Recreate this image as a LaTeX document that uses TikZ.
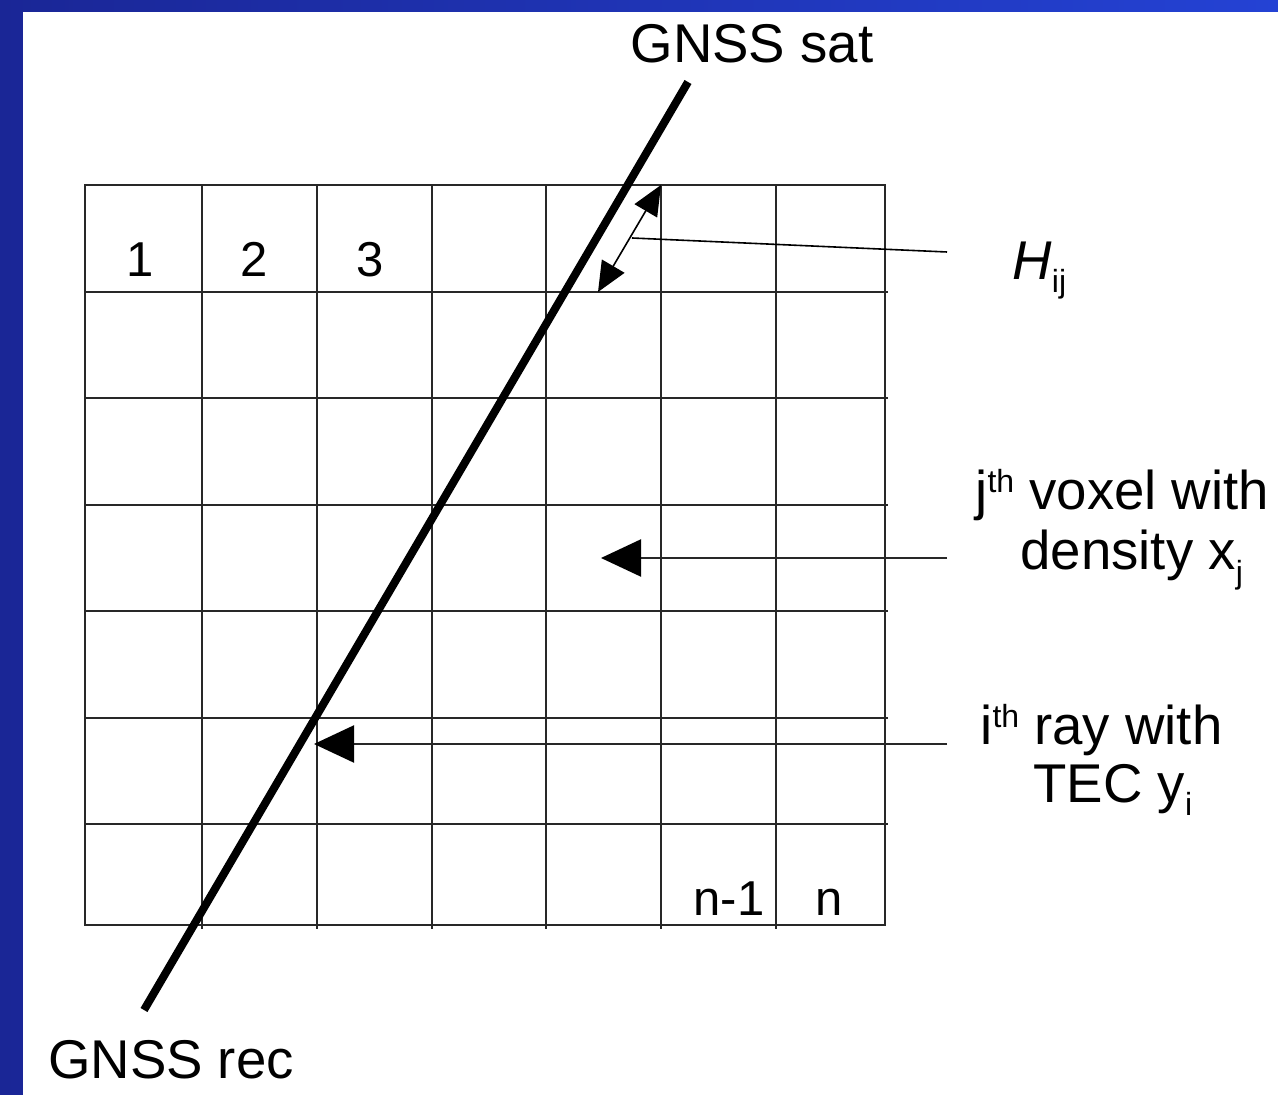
\documentclass[tikz,border=0pt]{standalone}
\usepackage{fontspec}
\setmainfont{Liberation Sans}
\usetikzlibrary{arrows.meta}
\definecolor{bgdark}{RGB}{26,38,150}
\definecolor{bglight}{RGB}{36,66,212}
\definecolor{gridc}{RGB}{40,40,40}
\newcommand\supx[1]{\raisebox{8.5pt}{\fontsize{16}{16}\selectfont #1}}
\newcommand\subx[1]{\raisebox{-6.5pt}{\fontsize{16}{16}\selectfont #1}}
\begin{document}
\begin{tikzpicture}[x=0.5pt,y=-0.5pt,
  big/.style={font=\fontsize{27.3}{32}\selectfont, inner sep=0pt},
  cell/.style={font=\fontsize{24.5}{29}\selectfont, inner sep=0pt, anchor=base},
  gridline/.style={draw=gridc, line width=1.1pt},
  thinline/.style={draw=black, line width=0.8pt},
  tri/.style={-{Triangle[length=20pt,width=18.5pt,color=black,fill=black]}},
]
\useasboundingbox (0,0) rectangle (1278,1095);
\shade[left color=bgdark, right color=bglight] (0,0) rectangle (1278,1095);
\fill[white] (23,12) rectangle (1278,1095);
% grid
\foreach \x in {202,317,432,546,661,776} \draw[gridline] (\x,185) -- (\x,929);
\foreach \y in {292,398,505,611,718,824} \draw[gridline] (85,\y) -- (888,\y);
\draw[gridline] (85,185) rectangle (885,925);
% cell labels
\node[cell] (c1) at (140,277) {1};
\node[cell] (c2) at (254,277) {2};
\node[cell] (c3) at (370,277) {3};
\node[cell] (cn1) at (729,915) {n-1};
\node[cell] (cn) at (829,915) {n};
% ray
\node[big, anchor=base] (sat) at (752,63) {GNSS sat};
\node[big, anchor=base] (rec) at (171,1078) {GNSS rec};
\coordinate (satend) at (688,82);
\coordinate (recend) at (144,1010);
\draw[line width=4pt] (recend) -- (satend);
% H_ij
\node[big, anchor=base west] (H) at (1012,280) {\textit{H}\subx{ij}};
\coordinate (h1) at (598,292);
\coordinate (h2) at (661,185);
\draw[thinline, {Triangle[length=15pt,width=13pt]}-{Triangle[length=15pt,width=13pt]}] (h1) -- (h2);
\coordinate (hs) at (632,238);
\coordinate (he) at (947,252);
\draw[thinline] (hs) -- (he);
% voxel
\node[big, anchor=base west] (vox1) at (975,510) {j\supx{th} voxel with};
\node[big, anchor=base west] (vox2) at (1020,570) {density x\subx{j}};
\coordinate (vs) at (947,558);
\coordinate (vt) at (601,558);
\draw[gridline, tri] (vs) -- (vt);
% ray label
\node[big, anchor=base west] (ray1) at (980,744) {i\supx{th} ray with};
\node[big, anchor=base west] (ray2) at (1033,802) {TEC y\subx{i}};
\coordinate (rs) at (947,744);
\coordinate (rt) at (314,744);
\draw[gridline, tri] (rs) -- (rt);
\end{tikzpicture}
\end{document}
